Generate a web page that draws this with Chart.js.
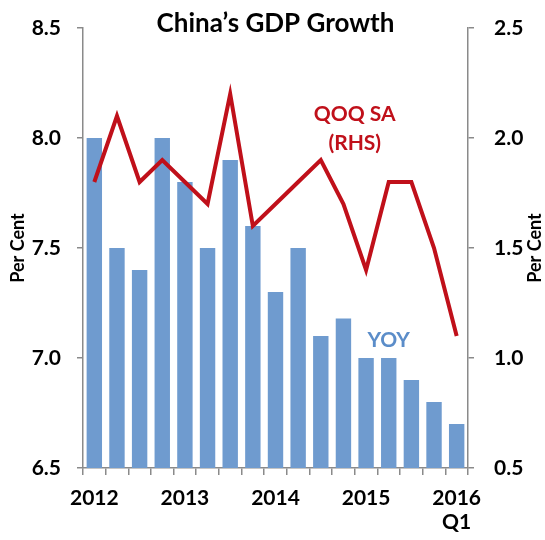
<!DOCTYPE html>
<html>
<head>
<meta charset="utf-8">
<script src="https://cdn.jsdelivr.net/npm/chart.js@4/dist/chart.umd.min.js"></script>
<style>
  html, body { margin: 0; padding: 0; background: #fff; }
  #wrap { width: 545px; height: 540px; }
</style>
</head>
<body>
<div id="wrap"><canvas id="c" width="545" height="540"></canvas></div>
<script>
// Quarterly categories, 2012 Q1 – 2016 Q1
const quarters = ['2012Q1','2012Q2','2012Q3','2012Q4','2013Q1','2013Q2','2013Q3','2013Q4',
                  '2014Q1','2014Q2','2014Q3','2014Q4','2015Q1','2015Q2','2015Q3','2015Q4','2016Q1'];
// Axis tick labels shown under the quarters
const tickLabels = ['2012','','','','2013','','','','2014','','','','2015','','','',['2016','Q1']];
// Year-on-year growth, per cent (left axis)
const yoy = [8.0, 7.5, 7.4, 8.0, 7.8, 7.5, 7.9, 7.6, 7.3, 7.5, 7.1, 7.18, 7.0, 7.0, 6.9, 6.8, 6.7];
// Quarter-on-quarter seasonally adjusted growth, per cent (right axis)
const qoq = [1.8, 2.1, 1.8, 1.9, 1.8, 1.7, 2.2, 1.6, 1.7, 1.8, 1.9, 1.7, 1.4, 1.8, 1.8, 1.5, 1.1];

const FONT = 'Lato, "Open Sans", sans-serif';
const BLUE = '#6f9bcf';
const RED = '#c0101a';
const AXIS = '#8a8a8a';

const textPlugin = {
  id: 'labelsText',
  afterDraw(chart) {
    const ctx = chart.ctx;
    const area = chart.chartArea;
    const x = chart.scales.x, yR = chart.scales.yR, yL = chart.scales.yL;
    ctx.save();
    ctx.textAlign = 'center';
    ctx.textBaseline = 'middle';
    // heading
    ctx.fillStyle = '#000';
    ctx.font = 'bold 26px ' + FONT;
    ctx.fillText('China\u2019s GDP Growth', (area.left + area.right) / 2, 24);
    // axis titles, both reading bottom to top
    ctx.font = 'bold 18px ' + FONT;
    const midY = (area.top + area.bottom) / 2;
    [[18, midY], [535, midY]].forEach(([tx, ty]) => {
      ctx.save();
      ctx.translate(tx, ty);
      ctx.rotate(-Math.PI / 2);
      ctx.fillText('Per Cent', 0, 0);
      ctx.restore();
    });
    // series labels
    ctx.font = 'bold 21px ' + FONT;
    ctx.fillStyle = RED;
    const qx = x.getPixelForValue(11.5);
    ctx.fillText('QOQ SA', qx, yR.getPixelForValue(2.11));
    ctx.fillText('(RHS)', qx, yR.getPixelForValue(1.975));
    ctx.fillStyle = '#5b8dc9';
    ctx.fillText('YOY', x.getPixelForValue(13.0), yL.getPixelForValue(7.08));
    ctx.restore();
  }
};

// fixed axis box sizes; tick-label overhang is covered by the layout padding
function fixVertical(width) {
  return s => { s.width = width; s.paddingTop = 0; s.paddingBottom = 0; };
}

new Chart(document.getElementById('c'), {
  data: {
    labels: tickLabels,
    datasets: [
      {
        type: 'line',
        label: 'QOQ SA (RHS)',
        data: qoq,
        yAxisID: 'yR',
        borderColor: RED,
        backgroundColor: RED,
        borderWidth: 4,
        pointRadius: 0,
        tension: 0,
        order: 0
      },
      {
        type: 'bar',
        label: 'YOY',
        data: yoy,
        yAxisID: 'yL',
        backgroundColor: BLUE,
        categoryPercentage: 1.0,
        barPercentage: 0.68,
        order: 1
      }
    ]
  },
  options: {
    responsive: false,
    animation: false,
    layout: { padding: { top: 28, left: 0, right: 0, bottom: 0 } },
    plugins: { legend: { display: false }, tooltip: { enabled: false }, title: { display: false } },
    scales: {
      x: {
        offset: true,
        grid: { offset: true, drawOnChartArea: false, drawTicks: true, tickLength: 7, color: AXIS, lineWidth: 1.5 },
        border: { color: AXIS, width: 1.5 },
        ticks: {
          autoSkip: false, maxRotation: 0, minRotation: 0, padding: 11,
          color: '#000', font: { family: FONT, size: 21, weight: 'bold', lineHeight: 1.15 }
        },
        afterFit(s) { s.height = 72; s.paddingLeft = 0; s.paddingRight = 0; }
      },
      yL: {
        position: 'left',
        min: 6.5, max: 8.5,
        ticks: {
          stepSize: 0.5, padding: 16, color: '#000',
          font: { family: FONT, size: 21, weight: 'bold' },
          callback: v => v.toFixed(1)
        },
        grid: { drawOnChartArea: false, drawTicks: true, tickLength: 6, color: AXIS, lineWidth: 1.5 },
        border: { color: AXIS, width: 1.5 },
        afterFit: fixVertical(83)
      },
      yR: {
        position: 'right',
        min: 0.5, max: 2.5,
        ticks: {
          stepSize: 0.5, padding: 20, color: '#000',
          font: { family: FONT, size: 21, weight: 'bold' },
          callback: v => v.toFixed(1)
        },
        grid: { drawOnChartArea: false, drawTicks: true, tickLength: 6, color: AXIS, lineWidth: 1.5 },
        border: { color: AXIS, width: 1.5 },
        afterFit: fixVertical(77)
      }
    }
  },
  plugins: [textPlugin]
});
</script>
</body>
</html>
